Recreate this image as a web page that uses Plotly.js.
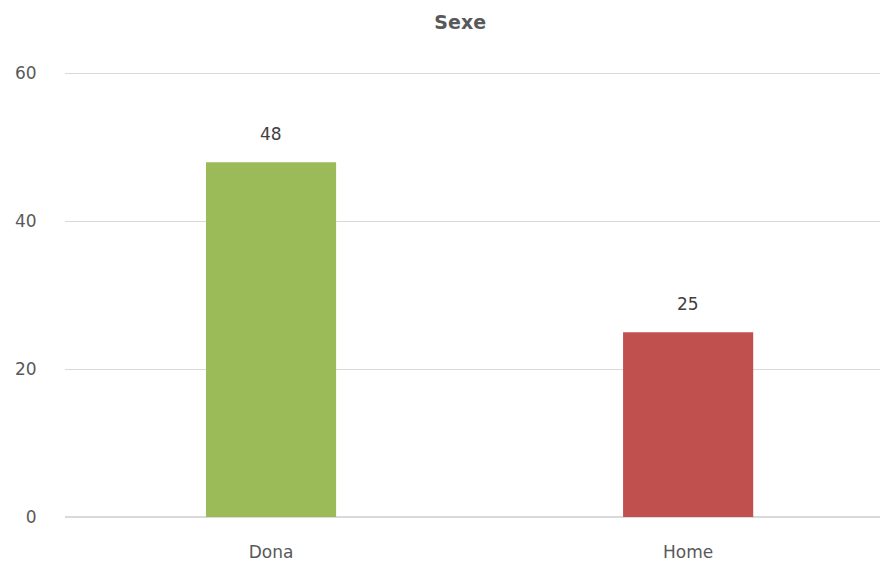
<!DOCTYPE html>
<html><head><meta charset="utf-8">
<script src="https://cdn.plot.ly/plotly-3.0.1.min.js"></script>
<style>body{margin:0;background:#fff}#c{width:885px;height:565px}</style>
</head><body><div id="c"></div>
<script>
var categories = ["Dona", "Home"];
var values = [48, 25];
var colors = ["#9BBB59", "#C0504D"];
var yTicks = [0, 20, 40, 60];

var font = "DejaVu Sans, sans-serif";
var annotations = values.map(function (v, i) {
  return {x: i, y: v, xref: "x", yref: "y", text: String(v), showarrow: false,
          yanchor: "middle", yshift: 28,
          font: {family: font, size: 17, color: "#404040"}};
});
Plotly.newPlot("c", [{
  type: "bar",
  x: [0, 1],
  y: values,
  width: 0.312,
  marker: {color: colors},
  hoverinfo: "none"
}], {
  width: 885, height: 565,
  margin: {l: 65, r: 5, t: 72, b: 48},
  paper_bgcolor: "#fff", plot_bgcolor: "#fff",
  showlegend: false,
  annotations: annotations,
  title: {text: "<b>Sexe</b>", x: 0.52, xanchor: "center", y: 0.961, yanchor: "middle",
          font: {family: font, size: 19, color: "#595959"}},
  xaxis: {range: [-0.494, 1.460], tickvals: [0, 1], ticktext: categories,
          showgrid: false, zeroline: false, showline: false,
          ticks: "outside", ticklen: 20, tickcolor: "rgba(0,0,0,0)",
          tickfont: {family: font, size: 17, color: "#595959"}, fixedrange: true},
  yaxis: {range: [0, 60.2], tickvals: yTicks, ticktext: yTicks.map(String),
          showgrid: true, gridcolor: "#D9D9D9", gridwidth: 1.3, zeroline: true, zerolinecolor: "#D9D9D9", zerolinewidth: 1.3,
          showline: false, ticks: "outside", ticklen: 24, tickcolor: "rgba(0,0,0,0)",
          tickfont: {family: font, size: 17, color: "#595959"}, fixedrange: true}
}, {staticPlot: true});
</script></body></html>
